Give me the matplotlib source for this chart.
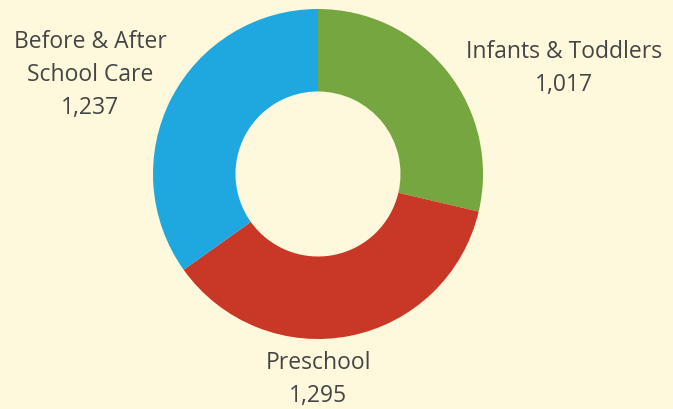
import matplotlib
matplotlib.use("Agg")
import matplotlib.pyplot as plt

categories = ["Infants & Toddlers", "Preschool", "Before & After\nSchool Care"]
values = [1017, 1295, 1237]
colors = ["#76A640", "#C93826", "#1FA8DF"]

W, H = 673, 410
bg = "#FEF9DC"
fig = plt.figure(figsize=(W / 100, H / 100), dpi=100, facecolor=bg)

cx, cy, r = 318, 175, 165
ax = fig.add_axes([(cx - r) / W, (H - cy - r) / H, 2 * r / W, 2 * r / H])
ax.set_facecolor(bg)
ax.pie(values, colors=colors, startangle=90, counterclock=False, radius=1,
       wedgeprops=dict(width=0.5, linewidth=0))
ax.set_xlim(-1, 1)
ax.set_ylim(-1, 1)
ax.set_aspect("equal")
ax.axis("off")

label_pos = [(564, 68), (318, 380), (90, 75)]
for cat, val, (x, y) in zip(categories, values, label_pos):
    fig.text(x / W, 1 - y / H, f"{cat}\n{val:,}", ha="center", va="center",
             fontsize=16.5, color="#454545", family=["Open Sans", "DejaVu Sans"],
             linespacing=1.5)

fig.savefig("out.png", dpi=100, facecolor=bg)
